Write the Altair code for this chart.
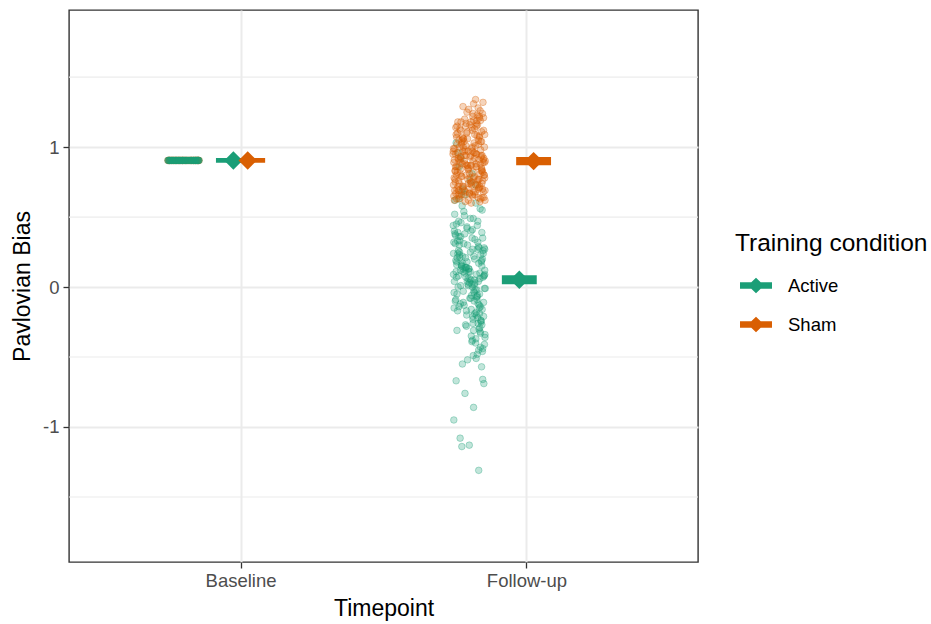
import altair as alt
import pandas as pd

# ---------------- data ----------------
timepoints = ["Baseline", "Follow-up"]
conditions = ["Active", "Sham"]
colors = ["#1b9e77", "#d95f02"]

# summary (mean with interval) per timepoint x condition
sum_timepoint = ["Baseline", "Baseline", "Follow-up", "Follow-up"]
sum_condition = ["Active", "Sham", "Active", "Sham"]
sum_mean = [0.905, 0.905, 0.052, 0.900]
sum_lower = [0.888, 0.888, 0.020, 0.870]
sum_upper = [0.922, 0.922, 0.084, 0.930]

# baseline raw values (all participants at the same value)
baseline_value = 0.905
baseline_jitter = [-0.054, -0.041, -0.030, -0.022, -0.013, -0.002, 0.008, 0.019,
                   0.031, 0.044, 0.053, -0.047, -0.035, -0.017, 0.003, 0.025,
                   0.038, 0.050, -0.026, 0.013, -0.008, 0.035, -0.050, 0.046,
                   -0.005, -0.052, -0.044, -0.037, -0.028, -0.019, -0.010, 0.001,
                   0.011, 0.022, 0.029, 0.041, 0.049, 0.055, -0.033, -0.024,
                   -0.015, 0.006, 0.016, 0.027, 0.036, -0.040, 0.052, -0.003,
                   0.043, -0.048]

# follow-up raw values
active_fu = [
    0.12, -0.21, 0.35, 0.04, -0.08, 0.27, 0.51, -0.33, 0.18, -0.02,
    0.09, 0.43, -0.14, 0.22, -0.45, 0.31, 0.06, -0.27, 0.58, 0.14,
    -0.05, 0.39, -0.18, 0.01, 0.24, -0.39, 0.47, 0.11, -0.11, 0.33,
    0.02, -0.24, 0.19, 0.66, -0.07, 0.28, -0.52, 0.08, 0.41, -0.16,
    0.15, -0.30, 0.54, 0.03, -0.01, 0.21, -0.49, 0.36, 0.10, -0.20,
    0.73, -0.04, 0.26, -0.35, 0.17, 0.45, -0.12, 0.05, 0.30, -0.57,
    0.13, -0.09, 0.62, 0.23, -0.26, 0.38, 0.00, -0.41, 0.16, 0.49,
    -0.15, 0.07, 0.34, -0.67, 0.20, -0.03, 0.81, 0.25, -0.22, 0.44,
    -0.69, 0.11, -0.31, 0.56, 0.04, -0.10, 0.29, -0.55, 0.37, 0.09,
    -0.76, 0.18, -0.06, 0.47, -0.36, 0.13, 0.92, -0.86, 0.24, -0.17,
    0.60, -0.95, 0.06, -0.28, 0.40, -1.08, 0.15, -0.13, 0.32, -1.13,
    1.03, -0.19, 0.08, -1.14, 0.27, -0.43, 0.52, -1.31, 0.02, -0.66,
    0.70, -0.48, 0.21, -0.25, 0.96, -0.38, 0.12, 0.86, -0.51, 0.42,
    -0.02, 0.16, -0.23, 0.31, 0.07, -0.12, 0.25, -0.29, 0.40, 0.03,
    -0.17, 0.19, 0.36, -0.06, 0.11, -0.34, 0.22, 0.00, -0.09, 0.28,
    0.14, -0.21, 0.46, 0.05, -0.14, 0.33, -0.04, 0.09, -0.26, 0.18,
    0.55, -0.11, 0.26, -0.37, 0.02, 0.38, -0.19, 0.12, -0.01, 0.23,
    -0.31, 0.07, 0.44, -0.08, 0.15, -0.24, 0.30, 0.04, -0.15, 0.20,
    0.63, -0.44, 0.10, 0.35, -0.05, -0.20, 0.27, 0.13, -0.32, 0.06,
    0.49, -0.10, 0.17, -0.27, 0.39, 0.01, -0.16, 0.24, -0.40, 0.08,
    0.68, -0.03, 0.32, -0.13, 0.14, -0.46, 0.21, 0.76, -0.07, 0.11,
]
active_jitter = [
    -0.031, 0.012, 0.047, -0.052, 0.005, 0.028, -0.017, 0.039, -0.044, 0.021,
    0.054, -0.008, -0.036, 0.016, 0.033, -0.049, 0.002, 0.044, -0.025, -0.011,
    0.036, -0.040, 0.024, -0.003, -0.055, 0.009, 0.030, -0.020, 0.050, -0.033,
    0.018, 0.041, -0.047, -0.014, 0.026, 0.052, -0.006, -0.038, 0.011, 0.045,
    -0.027, 0.034, -0.019, 0.001, 0.056, -0.042, 0.014, -0.030, 0.037, -0.009,
    0.022, -0.053, 0.048, 0.007, -0.023, -0.045, 0.031, 0.019, -0.035, 0.043,
    -0.001, 0.027, -0.050, 0.040, 0.013, -0.016, -0.039, 0.053, -0.028, 0.004,
    0.035, -0.012, 0.020, -0.046, 0.046, -0.021, 0.010, -0.034, 0.029, -0.056,
    0.051, 0.003, -0.043, 0.038, -0.007, 0.017, 0.032, -0.024, -0.048, 0.025,
    -0.015, 0.042, 0.008, -0.037, 0.055, -0.002, -0.029, 0.015, 0.049, -0.041,
    0.023, -0.054, 0.037, -0.010, 0.006, -0.032, 0.044, -0.018, 0.030, 0.000,
    -0.046, 0.019, 0.052, -0.026, 0.012, 0.039, -0.051, 0.033, -0.004, 0.047,
    -0.022, 0.028, -0.013, 0.041, -0.039, 0.011, 0.054, -0.035, 0.024, -0.008,
    0.026, -0.044, 0.013, -0.019, 0.048, -0.031, 0.004, 0.037, -0.052, 0.020,
    -0.010, 0.043, -0.036, 0.029, -0.002, 0.055, -0.024, 0.011, -0.047, 0.034,
    -0.015, 0.050, -0.029, 0.006, 0.039, -0.041, 0.017, -0.055, 0.031, -0.008,
    0.045, -0.021, -0.038, 0.023, 0.009, -0.050, 0.036, -0.012, 0.053, -0.034,
    0.015, -0.045, 0.028, 0.002, -0.027, 0.041, -0.006, 0.032, -0.053, 0.019,
    -0.037, 0.047, -0.016, 0.010, -0.043, 0.025, 0.054, -0.022, 0.038, -0.004,
    0.014, -0.049, 0.033, -0.013, 0.044, -0.030, 0.007, -0.040, 0.022, 0.051,
    -0.026, 0.016, -0.054, 0.035, -0.011, 0.046, -0.033, 0.003, 0.027, -0.046,
]
sham_fu = [
    0.92, 1.10, 0.71, 0.85, 1.21, 0.66, 0.99, 0.78, 1.04, 0.88,
    0.63, 1.15, 0.95, 0.74, 1.27, 0.82, 0.69, 1.06, 0.91, 0.76,
    1.18, 0.86, 0.61, 1.01, 0.73, 0.97, 1.24, 0.67, 0.89, 1.12,
    0.80, 0.94, 0.70, 1.08, 0.84, 1.19, 0.65, 0.96, 0.77, 1.02,
    0.87, 1.32, 0.72, 0.93, 1.14, 0.68, 0.83, 1.05, 0.75, 0.98,
    1.22, 0.62, 0.90, 1.09, 0.79, 0.70, 1.16, 0.86, 0.94, 0.66,
    1.00, 0.81, 1.26, 0.73, 0.88, 1.11, 0.64, 0.97, 0.78, 1.07,
    0.91, 1.31, 0.69, 0.85, 1.17, 0.75, 0.95, 0.60, 1.03, 0.82,
    1.20, 0.71, 0.89, 1.13, 0.67, 0.92, 1.28, 0.77, 1.00, 0.84,
    0.65, 1.09, 0.93, 0.72, 1.23, 0.80, 0.96, 0.68, 1.05, 0.87,
    1.34, 0.74, 0.90, 1.15, 0.63, 0.99, 0.79, 1.18, 0.70, 0.94,
    1.02, 0.83, 1.25, 0.66, 0.88, 1.12, 0.76, 0.97, 0.69, 1.07,
    0.86, 1.19, 0.73, 0.91, 1.04, 0.62, 1.29, 0.81, 0.95, 0.78,
    0.83, 1.01, 0.68, 0.94, 1.13, 0.75, 0.89, 1.07, 0.64, 0.97,
    1.19, 0.80, 0.72, 1.04, 0.91, 0.66, 1.16, 0.86, 0.99, 0.77,
    1.10, 0.70, 0.93, 1.22, 0.82, 0.62, 1.06, 0.88, 0.74, 1.00,
    0.95, 0.69, 1.14, 0.84, 0.79, 1.03, 0.61, 0.92, 1.18, 0.73,
    0.87, 1.08, 0.67, 0.96, 0.81, 1.12, 0.76, 0.90, 1.24, 0.65,
    0.98, 0.71, 1.05, 0.85, 0.63, 1.17, 0.78, 0.94, 1.09, 0.69,
    0.89, 1.02, 0.74, 1.21, 0.83, 0.66, 0.97, 1.11, 0.72, 0.86,
    1.06, 0.80, 0.93, 0.68, 1.15, 0.77, 1.00, 0.87, 0.64, 0.91,
]
sham_jitter = [
    0.018, -0.041, 0.033, -0.006, 0.050, -0.027, 0.009, -0.053, 0.040, -0.015,
    -0.034, 0.025, -0.048, 0.044, -0.002, 0.014, 0.055, -0.021, -0.038, 0.030,
    0.006, -0.045, 0.037, -0.012, 0.023, -0.056, 0.046, 0.001, -0.030, 0.011,
    0.052, -0.018, -0.043, 0.027, -0.004, 0.039, -0.033, 0.016, -0.050, 0.032,
    -0.009, 0.048, -0.024, 0.003, -0.047, 0.021, 0.042, -0.036, 0.008, -0.014,
    0.035, -0.052, 0.013, 0.054, -0.028, -0.001, 0.029, -0.040, 0.045, -0.019,
    0.010, -0.032, 0.038, -0.055, 0.024, -0.007, 0.051, -0.023, 0.002, -0.044,
    0.034, 0.015, -0.037, 0.043, -0.011, -0.049, 0.026, 0.007, -0.026, 0.047,
    -0.016, 0.036, -0.054, 0.019, 0.000, -0.039, 0.031, -0.005, 0.053, -0.031,
    0.012, -0.046, 0.041, -0.020, 0.028, -0.010, -0.042, 0.049, -0.025, 0.005,
    0.022, -0.035, 0.056, -0.013, 0.039, -0.051, 0.017, -0.029, 0.032, 0.004,
    -0.043, 0.045, -0.008, 0.020, -0.024, 0.050, -0.037, 0.011, -0.017, 0.035,
    -0.048, 0.027, 0.008, -0.033, 0.043, -0.003, -0.022, 0.038, -0.057, 0.016,
    -0.050, 0.021, -0.013, 0.042, -0.033, 0.006, 0.053, -0.024, 0.031, -0.004,
    0.015, -0.045, 0.037, -0.018, 0.049, -0.038, 0.002, 0.026, -0.055, 0.034,
    -0.009, 0.046, -0.029, 0.012, -0.042, 0.055, -0.020, 0.038, -0.003, -0.035,
    0.024, -0.051, 0.009, 0.044, -0.026, 0.017, -0.014, 0.051, -0.040, 0.029,
    -0.007, 0.035, -0.047, 0.020, 0.001, -0.031, 0.047, -0.017, 0.013, -0.054,
    0.040, -0.023, 0.032, -0.002, -0.044, 0.025, 0.054, -0.011, 0.019, -0.036,
    0.048, -0.028, 0.004, 0.036, -0.049, 0.010, -0.016, 0.043, -0.039, 0.023,
    -0.006, 0.052, -0.032, 0.014, -0.043, 0.030, -0.021, 0.007, 0.045, -0.052,
]

y_major = [-1, 0, 1]
y_minor = [-1.5, -0.5, 0.5, 1.5]

# ---------------- layout constants ----------------
POINT_SHIFT = -0.2
DODGE = {"Active": -0.025, "Sham": 0.025}
BAR_HALF = 0.061
tp_pos = {t: i + 1 for i, t in enumerate(timepoints)}
FONT = "Liberation Sans"

# ---------------- tables ----------------
rows = []
for cond in ["Sham", "Active"]:
    for j in baseline_jitter:
        rows.append({"condition": cond, "x": tp_pos["Baseline"] + POINT_SHIFT + j,
                     "bias": baseline_value})
for v, j in zip(active_fu, active_jitter):
    rows.append({"condition": "Active", "x": tp_pos["Follow-up"] + POINT_SHIFT + j, "bias": v})
for v, j in zip(sham_fu, sham_jitter):
    rows.append({"condition": "Sham", "x": tp_pos["Follow-up"] + POINT_SHIFT + j, "bias": v})
points_df = pd.DataFrame(rows)

summ = pd.DataFrame({
    "timepoint": sum_timepoint, "condition": sum_condition,
    "mean": sum_mean, "lower": sum_lower, "upper": sum_upper,
})
summ["xc"] = [tp_pos[t] + DODGE[c] for t, c in zip(summ.timepoint, summ.condition)]
summ["x1"] = summ["xc"] - BAR_HALF
summ["x2"] = summ["xc"] + BAR_HALF

minor_df = pd.DataFrame({"y": y_minor})

# ---------------- scales / encodings ----------------
xscale = alt.Scale(domain=[0.4, 2.6], nice=False, zero=False)
yscale = alt.Scale(domain=[-1.965, 1.98], nice=False, zero=False)
color_scale = alt.Scale(domain=conditions, range=colors)

label_expr = f"datum.value == 1 ? '{timepoints[0]}' : '{timepoints[1]}'"

legend_symbol = ("M-0.5,-0.32L0.63,-0.32L1.1,-0.78L1.57,-0.32L2.7,-0.32L2.7,0.32"
                 "L1.57,0.32L1.1,0.78L0.63,0.32L-0.5,0.32Z")

legend = alt.Legend(
    title="Training condition",
    orient="none", legendX=666, legendY=222,
    titleFontSize=24.5, titleFont=FONT, titleColor="black", titleFontWeight="normal",
    titlePadding=19, titleLimit=400,
    labelFontSize=18.5, labelFont=FONT, labelColor="black",
    symbolType=legend_symbol,
    symbolSize=400, symbolOpacity=1, symbolStrokeWidth=0,
    labelOffset=33, rowPadding=19, padding=0,
)

x_enc = alt.X("x:Q", scale=xscale, title="Timepoint",
              axis=alt.Axis(values=[1, 2], labelExpr=label_expr))
y_enc = alt.Y("bias:Q", scale=yscale, title="Pavlovian Bias",
              axis=alt.Axis(values=y_major, labelExpr="datum.value + ''"))

minor = alt.Chart(minor_df).mark_rule(color="#ececec", strokeWidth=1.1).encode(
    y=alt.Y("y:Q", scale=yscale),
)

pts = alt.Chart(points_df).mark_circle(
    size=44, fillOpacity=0.27, strokeOpacity=0.33, strokeWidth=1
).encode(
    x=x_enc, y=y_enc,
    color=alt.Color("condition:N", scale=color_scale, legend=legend),
    stroke=alt.Stroke("condition:N", scale=color_scale, legend=None),
)

bars = alt.Chart(summ).mark_rect().encode(
    x=alt.X("x1:Q", scale=xscale), x2="x2:Q",
    y=alt.Y("lower:Q", scale=yscale), y2="upper:Q",
    color=alt.Color("condition:N", scale=color_scale, legend=legend),
)

diamonds = alt.Chart(summ).mark_point(shape="diamond", filled=True, size=340, opacity=1).encode(
    x=alt.X("xc:Q", scale=xscale),
    y=alt.Y("mean:Q", scale=yscale),
    color=alt.Color("condition:N", scale=color_scale, legend=legend),
)

chart = alt.layer(minor, pts, bars, diamonds).properties(
    width=629, height=552,
    autosize=alt.AutoSizeParams(type="none"),
    padding={"left": 69, "top": 10, "right": 233, "bottom": 62},
    background="white",
).configure_view(
    stroke="#333333", strokeWidth=1.4,
).configure_axis(
    labelFont=FONT, titleFont=FONT,
    labelFontSize=18.5, labelColor="#4d4d4d",
    titleFontSize=23, titleColor="black", titleFontWeight="normal",
    tickColor="#333333", tickSize=6, tickWidth=1.3,
    gridColor="#ebebeb", gridWidth=2,
    domain=False,
).configure_axisX(
    labelPadding=3, titlePadding=8,
).configure_axisY(
    labelPadding=4, titlePadding=8,
)

chart.save("out.html", embed_options={"renderer": "svg", "actions": False})
